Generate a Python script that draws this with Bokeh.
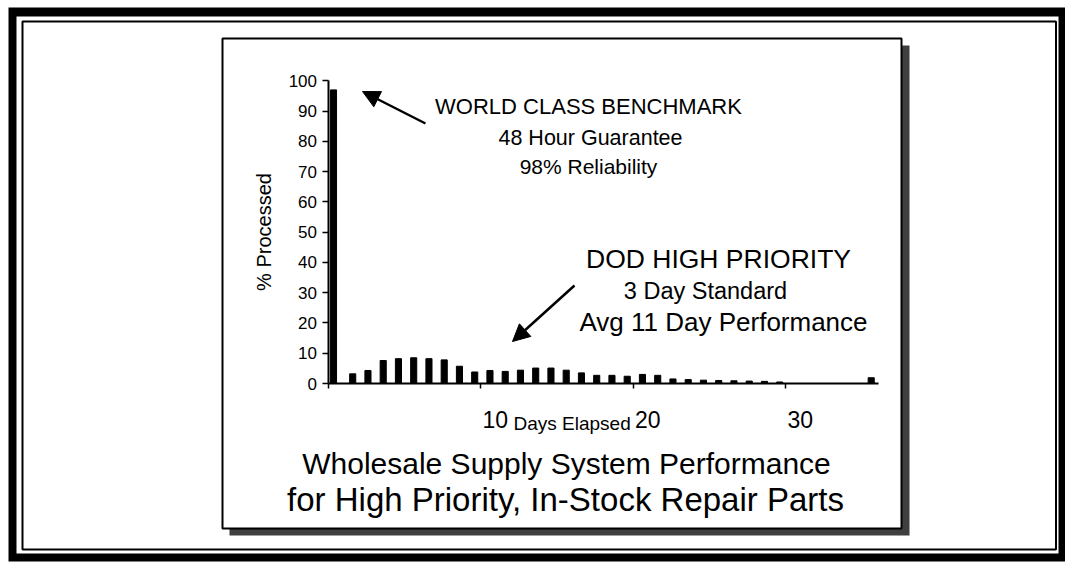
from bokeh.plotting import figure
from bokeh.models import LinearAxis, FixedTicker, Arrow, NormalHead, Range1d, Label, ColumnDataSource
from bokeh.core.properties import value
from bokeh.transform import dodge
from bokeh.embed import file_html
from bokeh.resources import INLINE

# ---------------- data ----------------
benchmark_days = [0]
benchmark_pct = [97]
dod_days = list(range(1, 36))
dod_pct = [3.2, 4.3, 7.6, 8.2, 8.5, 8.2, 7.8, 5.7, 3.8, 4.3,
           4.0, 4.4, 5.1, 5.1, 4.4, 3.5, 2.7, 2.7, 2.4, 3.0,
           2.7, 1.5, 1.3, 1.1, 1.0, 0.9, 0.8, 0.7, 0.5, 0.0,
           0.0, 0.0, 0.0, 0.0, 1.9]
x_ticks = [0, 10, 20, 30]
x_tick_labels = ["", "10", "20", "30"]
y_ticks = [0, 10, 20, 30, 40, 50, 60, 70, 80, 90, 100]
benchmark_lines = ["WORLD CLASS BENCHMARK", "48 Hour Guarantee", "98% Reliability"]
dod_lines = ["DOD HIGH PRIORITY", "3 Day Standard", "Avg 11 Day Performance"]
title_lines = ["Wholesale Supply System Performance",
               "for High Priority, In-Stock Repair Parts"]

FONT = "Liberation Sans"

# ---------------- geometry (window px -> data) ----------------
W, H = 1065, 565
PX_DAY = 15.25
PX_PCT = 3.027
ORIGIN_X = 327.5
ORIGIN_Y = 383.0
x0 = -ORIGIN_X / PX_DAY
x1 = x0 + W / PX_DAY
y1 = ORIGIN_Y / PX_PCT
y0 = y1 - H / PX_PCT


def wx(px):
    return x0 + px / PX_DAY


def wy(py):
    return y1 - py / PX_PCT


p = figure(width=W, height=H, x_range=Range1d(x0, x1), y_range=Range1d(y0, y1),
           output_backend="svg", toolbar_location=None,
           x_axis_location=None, y_axis_location=None, title=None,
           min_border=0, min_border_left=0, min_border_right=0,
           min_border_top=0, min_border_bottom=0,
           outline_line_color=None, background_fill_color="white",
           border_fill_color="white")
p.grid.visible = False

# ---------------- outer double frame ----------------
p.quad(left=[wx(8)], right=[wx(1065)], top=[wy(7)], bottom=[wy(561)],
       fill_color="black", line_color=None)
p.quad(left=[wx(16)], right=[wx(1058)], top=[wy(16)], bottom=[wy(553)],
       fill_color="white", line_color=None)
p.quad(left=[wx(22)], right=[wx(1055.5)], top=[wy(21)], bottom=[wy(549)],
       fill_color=None, line_color="black", line_width=2)

# ---------------- panel with shadow ----------------
p.quad(left=[wx(229)], right=[wx(909)], top=[wy(45)], bottom=[wy(535)],
       fill_color="#3f3f3f", line_color=None)
p.quad(left=[wx(222)], right=[wx(901)], top=[wy(38)], bottom=[wy(528)],
       fill_color="white", line_color="black", line_width=2)

# ---------------- bars ----------------
src_b = ColumnDataSource(dict(day=benchmark_days, pct=benchmark_pct))
src_d = ColumnDataSource(dict(day=dod_days, pct=dod_pct))
p.vbar(x=dodge("day", 0.36), top="pct", bottom=0, width=0.4, source=src_b,
       fill_color="black", line_color="black")
p.vbar(x=dodge("day", 0.62), top="pct", bottom=0, width=0.4, source=src_d,
       fill_color="black", line_color="black")

# ---------------- axes ----------------
yaxis = LinearAxis(fixed_location=0, bounds=(0, 100),
                   ticker=FixedTicker(ticks=y_ticks, minor_ticks=[]),
                   axis_label="% Processed",
                   axis_label_text_font=FONT, axis_label_text_font_size="20px",
                   axis_label_text_font_style="normal", axis_label_text_color="black",
                   axis_label_standoff=11,
                   major_label_text_font=FONT, major_label_text_font_size="17px",
                   major_label_text_color="black", major_label_standoff=5,
                   major_tick_out=6, major_tick_in=0, minor_tick_out=0, minor_tick_in=0,
                   axis_line_width=2, major_tick_line_width=1.5)
p.add_layout(yaxis, "left")

xaxis = LinearAxis(fixed_location=0, bounds=(0, 36.1),
                   ticker=FixedTicker(ticks=x_ticks, minor_ticks=[]),
                   major_label_overrides={t: "" for t in x_ticks},
                   major_label_text_font_size="1px",
                   major_tick_out=5, major_tick_in=0, minor_tick_out=0, minor_tick_in=0,
                   axis_line_width=2, major_tick_line_width=1.5)
p.add_layout(xaxis, "below")

# x tick labels: set just to the right of each tick, as in the original
p.text(x=x_ticks, y=[0] * len(x_ticks), text=x_tick_labels,
       x_offset=2, y_offset=36, text_align="left", text_baseline="alphabetic",
       text_font=value(FONT), text_font_size=value("23px"), text_color="black")

p.add_layout(Label(x=wx(513), y=wy(423), text="Days Elapsed", text_font=FONT,
                   text_font_size="19px", text_color="black",
                   text_align="left", text_baseline="alphabetic"))

# ---------------- annotations ----------------
bench_xy = [(588, 106, "22px"), (590, 137, "21.5px"), (588, 166, "21px")]
for (px, py, fs), t in zip(bench_xy, benchmark_lines):
    p.add_layout(Label(x=wx(px), y=wy(py), text=t, text_font=FONT,
                       text_font_size=fs, text_color="black",
                       text_align="center", text_baseline="middle"))

dod_xy = [(718, 258, "26.5px"), (705, 290, "23.5px"), (723, 321, "26px")]
for (px, py, fs), t in zip(dod_xy, dod_lines):
    p.add_layout(Label(x=wx(px), y=wy(py), text=t, text_font=FONT,
                       text_font_size=fs, text_color="black",
                       text_align="center", text_baseline="middle"))

title_xy = [(566, 463, "30px"), (565, 499, "33px")]
for (px, py, fs), t in zip(title_xy, title_lines):
    p.add_layout(Label(x=wx(px), y=wy(py), text=t, text_font=FONT,
                       text_font_size=fs, text_color="black",
                       text_align="center", text_baseline="middle"))

p.add_layout(Arrow(end=NormalHead(size=17, fill_color="black", line_color="black"),
                   x_start=wx(425), y_start=wy(123), x_end=wx(362), y_end=wy(91),
                   line_width=2.5, line_color="black"))
p.add_layout(Arrow(end=NormalHead(size=17, fill_color="black", line_color="black"),
                   x_start=wx(574), y_start=wy(285), x_end=wx(512), y_end=wy(341),
                   line_width=2.5, line_color="black"))

open("out.html", "w").write(file_html(p, INLINE))
